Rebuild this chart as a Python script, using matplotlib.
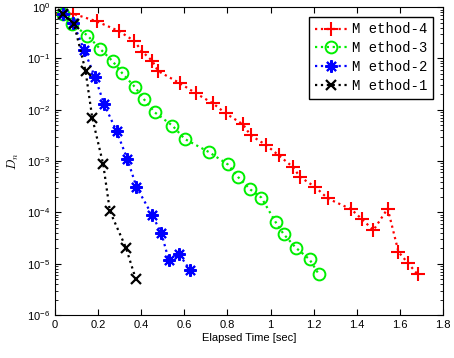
import matplotlib
matplotlib.use('Agg')
import matplotlib.pyplot as plt
import numpy as np

plt.rcParams.update({
    'font.family': 'Liberation Sans',
    'font.size': 8,
    'mathtext.fontset': 'cm',
})

# Method-4
m4_t = [0.038, 0.082, 0.193, 0.298, 0.367, 0.406, 0.452, 0.478, 0.579, 0.653, 0.733,
        0.792, 0.872, 0.907, 0.980, 1.037, 1.103, 1.137, 1.208, 1.265, 1.374, 1.425,
        1.477, 1.543, 1.593, 1.636, 1.682]
m4_d = [0.73, 0.75, 0.53, 0.34, 0.22, 0.135, 0.089, 0.057, 0.033, 0.021, 0.0133,
        0.0085, 0.0052, 0.0032, 0.00204, 0.0013, 0.00077, 0.00049, 0.00031, 0.000187,
        0.000115, 7.3e-5, 4.5e-5, 1.19e-4, 1.7e-5, 1.04e-5, 6.2e-6]

# Method-3
m3_t = [0.036, 0.079, 0.151, 0.208, 0.267, 0.313, 0.370, 0.413, 0.463, 0.545, 0.602,
        0.714, 0.802, 0.849, 0.906, 0.957, 1.023, 1.060, 1.116, 1.181, 1.224]
m3_d = [0.73, 0.47, 0.28, 0.156, 0.089, 0.051, 0.028, 0.016, 0.0089, 0.0049, 0.0027,
        0.0015, 0.00086, 0.00049, 0.00028, 0.000195, 6.5e-5, 3.8e-5, 2.07e-5, 1.21e-5, 6.2e-6]

# Method-2
m2_t = [0.037, 0.085, 0.136, 0.185, 0.228, 0.286, 0.336, 0.378, 0.451, 0.494, 0.528,
        0.576, 0.625]
m2_d = [0.73, 0.49, 0.145, 0.044, 0.0129, 0.0038, 0.00109, 0.000314, 8.8e-5, 3.9e-5,
        1.17e-5, 1.53e-5, 7.7e-6]

# Method-1
m1_t = [0.038, 0.088, 0.142, 0.173, 0.224, 0.255, 0.329, 0.375]
m1_d = [0.73, 0.48, 0.057, 0.0070, 0.00086, 1.05e-4, 2.07e-5, 5.0e-6]

fig = plt.figure(figsize=(4.54, 3.58), dpi=100)
ax = fig.add_axes([0.121, 0.120, 0.855, 0.860])

ax.semilogy(m4_t, m4_d, ':', color='red', marker='+', markersize=10, mew=1.5, lw=1.6,
            label='M ethod-4')
ax.semilogy(m3_t, m3_d, ':', color='#00ee00', marker='o', markersize=8.5, mew=1.4, lw=1.6,
            mfc='none', label='M ethod-3')
ax.semilogy(m2_t, m2_d, ':', color='blue', marker=(8, 2, 0), markersize=9, mew=1.5, lw=1.6,
            label='M ethod-2')
ax.semilogy(m1_t, m1_d, ':', color='black', marker='x', markersize=6.5, mew=1.6, lw=1.6,
            label='M ethod-1')

ax.set_xlim(0, 1.8)
ax.set_ylim(1e-6, 1)
ax.set_xticks(np.arange(0, 1.81, 0.2))
ax.set_xticklabels(['0', '0.2', '0.4', '0.6', '0.8', '1', '1.2', '1.4', '1.6', '1.8'])
ax.tick_params(which='both', direction='in', top=True, right=True, labelsize=8)
ax.tick_params(which='major', length=4)
ax.tick_params(which='minor', length=2)
ax.set_xlabel('Elapsed Time [sec]', fontsize=8, labelpad=2)
ax.set_ylabel('$D_n$', fontsize=9)

leg = ax.legend(loc='upper right', prop={'family': 'Liberation Mono', 'size': 10},
                fancybox=False, edgecolor='black', framealpha=1, handlelength=2.3,
                handletextpad=0.4, borderaxespad=0.7, labelspacing=0.35, borderpad=0.4)
leg.get_frame().set_linewidth(1.0)

fig.savefig('out.png', dpi=100)
